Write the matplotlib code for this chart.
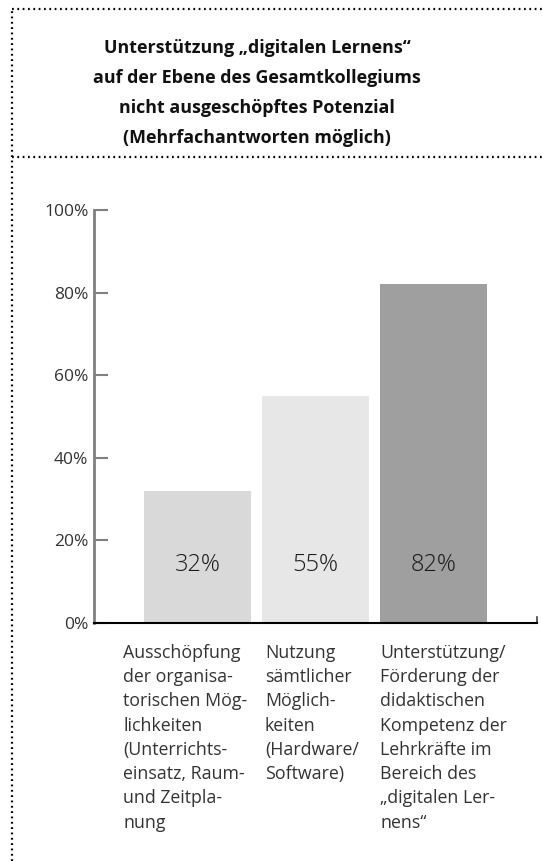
import matplotlib.pyplot as plt
from matplotlib.lines import Line2D

# Daten
kategorien = [
    "Ausschöpfung\nder organisa-\ntorischen Mög-\nlichkeiten\n(Unterrichts-\neinsatz, Raum-\nund Zeitpla-\nnung",
    "Nutzung\nsämtlicher\nMöglich-\nkeiten\n(Hardware/\nSoftware)",
    "Unterstützung/\nFörderung der\ndidaktischen\nKompetenz der\nLehrkräfte im\nBereich des\n„digitalen Ler-\nnens“",
]
werte = [32, 55, 82]
farben = ["#d9d9d9", "#e7e7e7", "#9f9f9f"]
yticks = [0, 20, 40, 60, 80, 100]
titel = ("Unterstützung „digitalen Lernens“\n"
         "auf der Ebene des Gesamtkollegiums\n"
         "nicht ausgeschöpftes Potenzial\n"
         "(Mehrfachantworten möglich)")

W, H = 542, 861
fig = plt.figure(figsize=(W / 100, H / 100), dpi=100)
plt.rcParams['font.family'] = ['Open Sans', 'DejaVu Sans']

# Rahmen aus Punktlinien
punkt = dict(color="black", linewidth=1.6, linestyle=(0, (0.8, 1.6)))
fig.add_artist(Line2D([12 / W, 1], [1 - 9 / H, 1 - 9 / H], **punkt))
fig.add_artist(Line2D([12 / W, 1], [1 - 157 / H, 1 - 157 / H], **punkt))
fig.add_artist(Line2D([12 / W, 12 / W], [0, 1 - 9 / H], **punkt))

fig.text(257 / W, 1 - 93 / H, titel, ha="center", va="center",
         fontsize=12.9, fontweight="bold", color="#111111", linespacing=1.85)

ax = fig.add_axes([94 / W, 1 - 623 / H, 443 / W, 413 / H])
x = list(range(len(werte)))
ax.bar(x, werte, width=0.907, color=farben)
ax.set_xlim(-0.877, 2.877)
ax.set_ylim(0, 100)

for i, v in enumerate(werte):
    ax.text(i, 14, f"{v}%", ha="center", va="center", fontsize=17,
            fontweight="light", color="#1a1a1a")

ax.set_yticks(yticks)
ax.set_yticklabels([f"{t}%" for t in yticks])
ax.tick_params(axis="y", direction="in", length=10, width=1.5, color="#808080",
               labelsize=12.5, labelcolor="#333333", pad=4)
ax.set_xticks([])

ax.spines["top"].set_visible(False)
ax.spines["left"].set_color("#808080")
ax.spines["left"].set_linewidth(2)
ax.spines["bottom"].set_color("black")
ax.spines["bottom"].set_linewidth(1.5)
ax.spines["right"].set_bounds(0, 1.5)
ax.spines["right"].set_color("#404040")
ax.spines["right"].set_linewidth(1.2)

# Kategorien unter den Balken
versatz = [-0.63, -0.43, -0.45]
for i, k in enumerate(kategorien):
    ax.text(i + versatz[i], -5, k, ha="left", va="top", fontsize=12.8,
            color="#333333", linespacing=1.45)

fig.savefig("out.png", dpi=100)
